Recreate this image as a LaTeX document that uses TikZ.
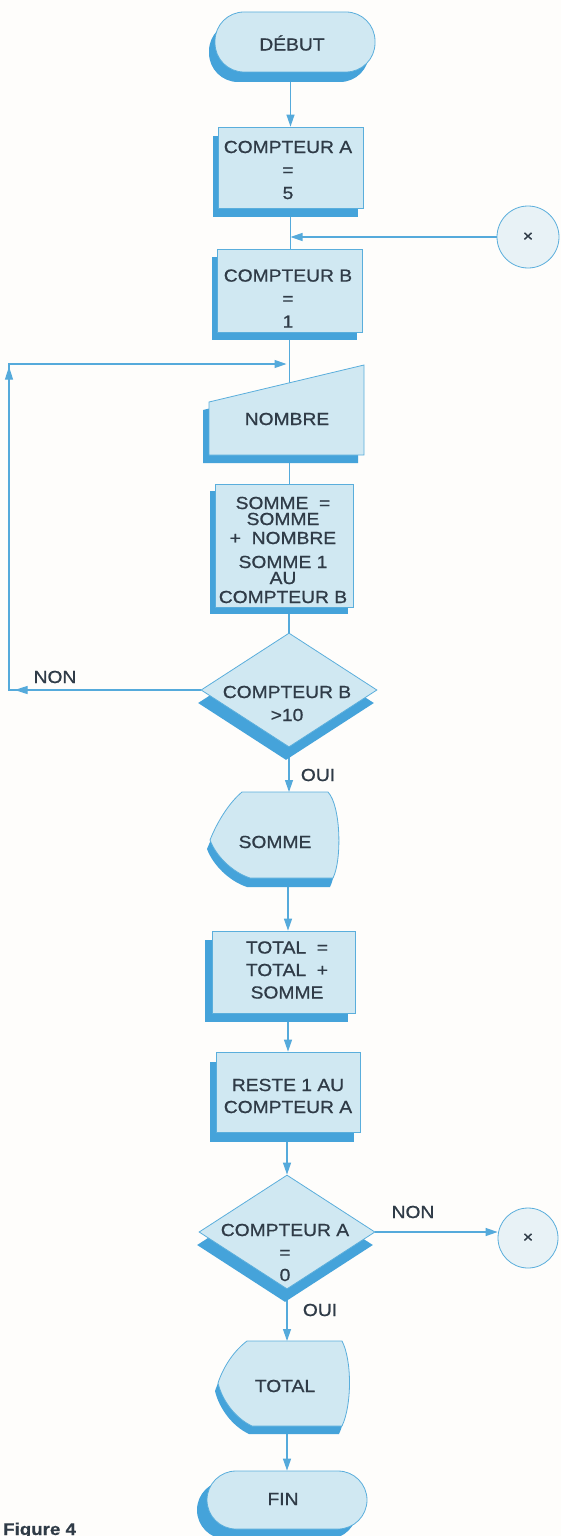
\documentclass[tikz,border=0pt]{standalone}
\usepackage{fontspec}
\setmainfont{Liberation Sans}
\newfontfamily\labf{Liberation Sans}[FakeStretch=1.1,FakeBold=0.8]
\newfontfamily\figf{Liberation Sans Bold}[FakeStretch=1.1,FakeBold=0.5]
\usetikzlibrary{arrows.meta,shapes.geometric,shadows,decorations.markings}
\pgfdeclarelayer{bg}
\pgfsetlayers{bg,main}
\definecolor{fillc}{HTML}{D0E8F2}
\definecolor{edgec}{HTML}{5AAEDC}
\definecolor{shc}{HTML}{45A3DA}
\definecolor{linec}{HTML}{55AADB}
\definecolor{txtc}{HTML}{2F3B47}
\definecolor{bgc}{HTML}{FEFDFB}
\definecolor{circc}{HTML}{E8F2F6}
\begin{document}
\begin{tikzpicture}[x=1pt,y=-1pt,
  txt/.style={font=\labf\fontsize{17.5}{23}\selectfont, text=txtc, align=center, inner sep=0pt},
  shd/.style 2 args={general shadow={fill=shc, shadow xshift=#1, shadow yshift=#2}},
  box/.style={draw=edgec, line width=0.8pt, fill=fillc},
  procbox/.style={box, rectangle, inner sep=0pt},
  term/.style={box, rectangle, rounded corners=29pt, inner sep=0pt},
  dec/.style={box, diamond, inner sep=0pt, minimum width=176pt, minimum height=114pt},
  conn/.style={draw=edgec, line width=0.8pt, fill=circc, circle, inner sep=0pt, font=\labf\fontsize{16}{16}\selectfont, text=txtc},
  ln/.style={draw=linec, color=linec, line width=1.2pt},
  arr/.style={ln, -{Triangle[length=12pt,width=8pt]}},
]
\useasboundingbox (0,0) rectangle (561,1536);
\begin{pgfonlayer}{bg}
\fill[bgc] (0,0) rectangle (561,1536);
\end{pgfonlayer}

% ---------- shapes ----------
\node[term, shd={-6pt}{-10pt}, minimum width=160pt, minimum height=60pt] (debut) at (295,42) {};
\node[procbox, shd={-5pt}{-9pt}, minimum width=145pt, minimum height=81pt] (ca) at (290.5,167.5) {};
\node[conn, minimum size=62pt] (c1) at (528,237) {×};
\node[procbox, shd={-5pt}{-8pt}, minimum width=145pt, minimum height=83pt] (cb) at (289.5,290.5) {};
\draw[box, shd={-6pt}{-8pt}] (209,402) -- (364,365) -- (364,455) -- (209,455) -- cycle;
\coordinate (ntop) at (289.5,383);
\coordinate (nbot) at (289.5,455);
\node[procbox, shd={-5pt}{-7pt}, minimum width=138pt, minimum height=123pt] (sb) at (284,545.5) {};
\node[dec, shd={-3pt}{-13pt}] (db) at (289,690) {};
\draw[box, shd={-3pt}{-9pt}] (242,792) -- (328,792) .. controls (341,806) and (342,860) .. (333,878) -- (250,878) .. controls (232,872) and (216,856) .. (210,840) .. controls (218,820) and (230,802) .. (242,792) -- cycle;
\coordinate (sdtop) at (289,792);
\coordinate (sdbot) at (288,878);
\node[procbox, shd={-7pt}{-9pt}, minimum width=143pt, minimum height=82pt] (tb) at (283.5,972) {};
\node[procbox, shd={-6pt}{-10pt}, minimum width=144pt, minimum height=80pt] (rb) at (288,1092) {};
\node[dec, shd={-2pt}{-13pt}] (da) at (287,1232) {};
\node[conn, minimum size=60pt] (c2) at (528,1238) {×};
\draw[box, shd={-3pt}{-8pt}] (247,1341) -- (342,1341) .. controls (352,1360) and (352,1405) .. (342,1426) -- (252,1426) .. controls (235,1418) and (222,1400) .. (218,1383) .. controls (224,1365) and (235,1350) .. (247,1341) -- cycle;
\coordinate (tdtop) at (287,1341);
\coordinate (tdbot) at (287,1426);
\node[term, shd={-10pt}{-10pt}, minimum width=160pt, minimum height=58pt] (fin) at (287,1500) {};

% ---------- texts ----------
\node[txt] (debt) at (292,43) {DÉBUT};
\node[txt] (cat) at (288,170) {COMPTEUR A\\=\\5};
\node[txt] (cbt) at (288,298.5) {COMPTEUR B\\=\\1};
\node[txt] (nombre) at (287,419) {NOMBRE};
\node[txt, font=\labf\fontsize{17.5}{20}\selectfont] (sbt) at (283,550) {SOMME\ \ =\\[-4pt]SOMME\\[-1pt]+\ \ NOMBRE\\[4pt]SOMME 1\\[-4pt]AU\\[-1pt]COMPTEUR B};
\node[txt] (dbt) at (287,703.5) {COMPTEUR B\\>10};
\node[txt] (sd) at (275,842) {SOMME};
\node[txt, font=\labf\fontsize{17.5}{22.5}\selectfont] (tbt) at (287,970) {TOTAL\ \ =\\TOTAL\ \ +\\SOMME};
\node[txt, font=\labf\fontsize{17.5}{22}\selectfont] (rbt) at (288,1096) {RESTE 1 AU\\COMPTEUR A};
\node[txt, font=\labf\fontsize{17.5}{22.5}\selectfont] (dat) at (285,1252.5) {COMPTEUR A\\=\\0};
\node[txt] (td) at (285,1386) {TOTAL};
\node[txt] (fint) at (283,1499) {FIN};
\node[txt] (non1) at (55,677) {NON};
\node[txt] (oui1) at (318,775) {OUI};
\node[txt] (non2) at (413,1212) {NON};
\node[txt] (oui2) at (320,1310) {OUI};
\node[font=\figf\fontsize{17}{17}\selectfont, text=txtc, anchor=base west, inner sep=0pt] (fig) at (3,1535) {Figure 4};

% ---------- connectors ----------
\coordinate (lc) at (9,364);
\coordinate (jl) at (289.5,364);
\begin{pgfonlayer}{bg}
\draw[arr] (debut.south -| ca.north) -- (ca.north);
\draw[ln] (ca.south) -- (ca.south |- cb.north);
\draw[arr] (c1.west) -- (c1.west -| ca.south);
\draw[ln] (cb.south) -- (cb.south |- ntop);
\draw[arr, shorten >=3pt, postaction={decorate},
  decoration={markings,
    mark=at position 186pt with {\arrow{Triangle[length=13pt,width=8pt]}},
    mark=at position 515pt with {\arrow{Triangle[length=13pt,width=8pt]}}}]
  (db.west) -- (db.west -| lc) -- (lc) -- (jl);
\draw[ln] (nbot) -- (nbot |- sb.north);
\draw[ln] (sb.south -| db.north) -- (db.north);
\draw[arr] (db.south) -- (db.south |- sdtop);
\draw[arr] (sdbot) -- (sdbot |- tb.north);
\draw[arr] (tb.south -| rb.north) -- (rb.north);
\draw[arr] (rb.south -| da.north) -- (da.north);
\draw[arr] (da.east) -- (da.east -| c2.west);
\draw[arr] (da.south) -- (da.south |- tdtop);
\draw[arr] (tdbot) -- (tdbot |- fin.north);
\end{pgfonlayer}
\end{tikzpicture}
\end{document}
